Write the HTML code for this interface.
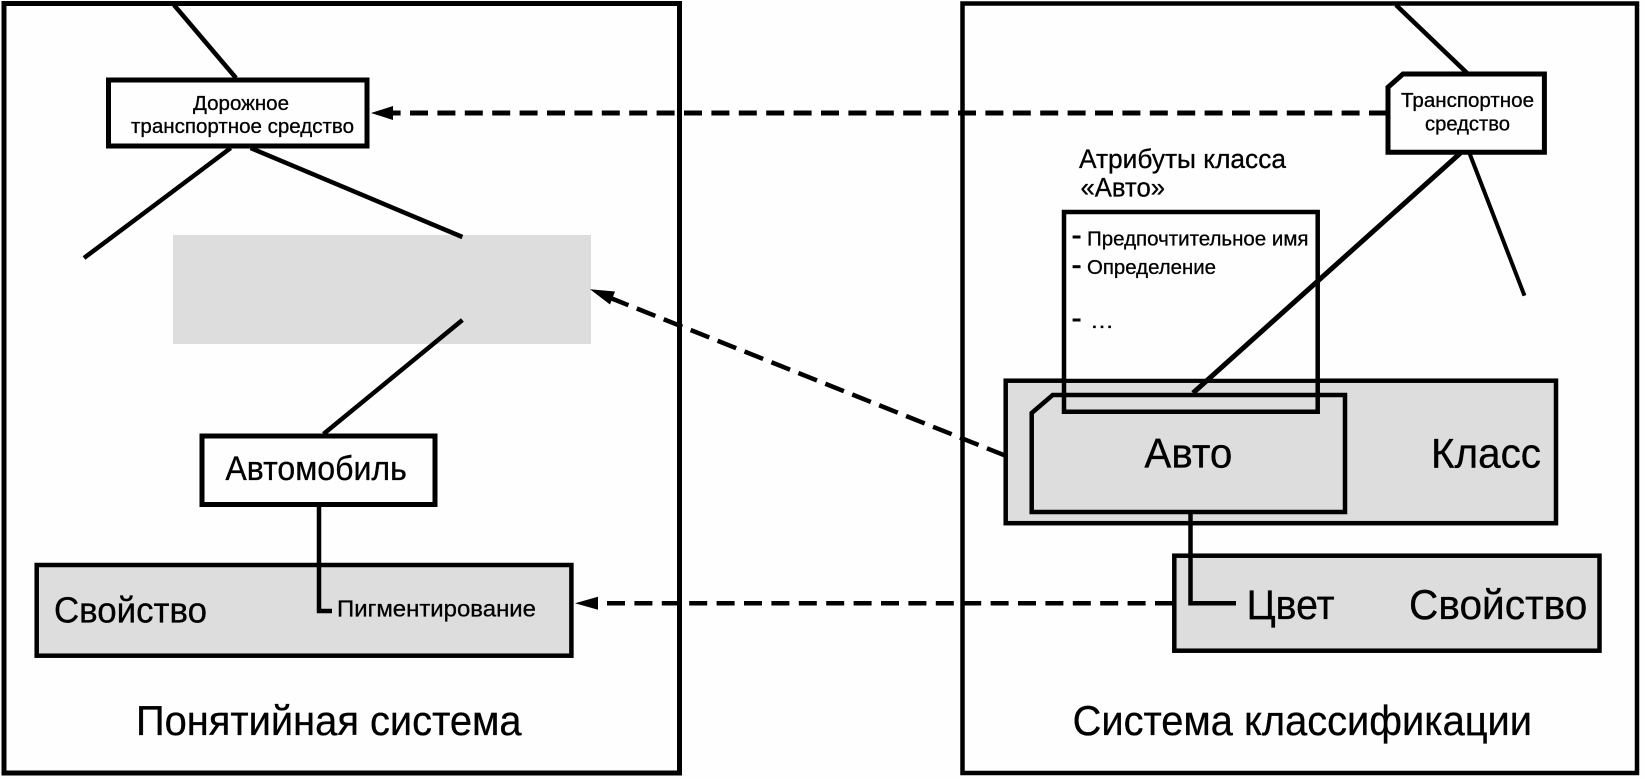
<!DOCTYPE html>
<html lang="ru">
<head>
<meta charset="utf-8">
<title>Диаграмма</title>
<style>
html,body{margin:0;padding:0;background:#fdfefd;width:1645px;height:779px;overflow:hidden}
svg{display:block}
text{font-family:"Liberation Sans",sans-serif;fill:#000;stroke:#000;stroke-width:.3}
</style>
</head>
<body>
<svg width="1645" height="779" viewBox="0 0 1645 779" xmlns="http://www.w3.org/2000/svg">
<rect width="1645" height="779" fill="#fdfefd"/>
<!-- frames -->
<rect x="4" y="3.5" width="675.5" height="769.5" fill="none" stroke="#000" stroke-width="5"/>
<rect x="962.5" y="3.5" width="674.5" height="769.5" fill="none" stroke="#000" stroke-width="4.5"/>

<!-- left: tree -->
<rect x="173" y="235" width="418" height="109" fill="#dcdddc"/>
<line x1="174" y1="5" x2="236" y2="78" stroke="#000" stroke-width="4.5"/>
<line x1="230.7" y1="148" x2="84" y2="258" stroke="#000" stroke-width="4.5"/>
<line x1="250.6" y1="148" x2="462.4" y2="237" stroke="#000" stroke-width="4.5"/>
<line x1="462.4" y1="320" x2="323.5" y2="434" stroke="#000" stroke-width="4.5"/>
<rect x="108.5" y="80" width="258.5" height="66" fill="#fdfefd" stroke="#000" stroke-width="5"/>
<rect x="202" y="436" width="233" height="68.5" fill="#fdfefd" stroke="#000" stroke-width="5"/>
<rect x="36.7" y="565" width="534.7" height="90.7" fill="#dcdddc" stroke="#000" stroke-width="4.5"/>
<polyline points="319,504 319,611 332,611" fill="none" stroke="#000" stroke-width="4.5"/>

<!-- dashed connectors -->
<line x1="1387" y1="113" x2="390" y2="113" stroke="#000" stroke-width="5" stroke-dasharray="18 9.4"/>
<polygon points="371,113 393,106 393,120" fill="#000"/>
<line x1="1005.5" y1="455.7" x2="608" y2="297" stroke="#000" stroke-width="4.5" stroke-dasharray="20 9"/>
<polygon points="590,289.3 615,291.5 610,304.5" fill="#000"/>
<line x1="1173" y1="603.3" x2="596" y2="603.3" stroke="#000" stroke-width="4.5" stroke-dasharray="18 9.4"/>
<polygon points="575,603.3 598,596.8 598,609.8" fill="#000"/>

<!-- right: class -->
<rect x="1005.7" y="380.7" width="550.3" height="142.5" fill="#dcdddc" stroke="#000" stroke-width="4.5"/>
<polygon points="1031.7,413 1052.7,395 1345,395 1345,512 1031.7,512" fill="#dcdddc" stroke="#000" stroke-width="4.5"/>
<polyline points="1064,380 1064,411.7 1317.7,411.7 1317.7,380" fill="none" stroke="#000" stroke-width="4.5"/>
<polygon points="1064,212 1317.7,212 1317.7,378.7 1064,378.7" fill="#fdfefd"/>
<polyline points="1064,382 1064,212 1317.7,212 1317.7,382" fill="none" stroke="#000" stroke-width="4.5"/>

<rect x="1174.3" y="555.7" width="425.2" height="95" fill="#dcdddc" stroke="#000" stroke-width="4.5"/>
<polyline points="1190.5,512 1190.5,603.3 1236,603.3" fill="none" stroke="#000" stroke-width="4.5"/>

<!-- right: tree -->
<line x1="1396" y1="5" x2="1467" y2="73" stroke="#000" stroke-width="4.5"/>
<line x1="1460.5" y1="153" x2="1193" y2="393" stroke="#000" stroke-width="5"/>
<line x1="1469.4" y1="153" x2="1524.5" y2="295.7" stroke="#000" stroke-width="4"/>
<polygon points="1388,87.3 1403,74 1544.4,74 1544.4,152.3 1388,152.3" fill="#fdfefd" stroke="#000" stroke-width="5"/>

<!-- attribute dashes -->
<rect x="1072.6" y="235.5" width="7.9" height="3" fill="#000"/>
<rect x="1072.6" y="265.2" width="7.9" height="3" fill="#000"/>
<rect x="1072.6" y="318.5" width="7.9" height="3" fill="#000"/>

<!-- text -->
<text x="193" y="110" font-size="20.5" textLength="96" lengthAdjust="spacingAndGlyphs">Дорожное</text>
<text x="131" y="133" font-size="20.5" textLength="223" lengthAdjust="spacingAndGlyphs">транспортное средство</text>
<text x="1401" y="107" font-size="20.5" textLength="133" lengthAdjust="spacingAndGlyphs">Транспортное</text>
<text x="1425" y="130.7" font-size="20.5" textLength="85" lengthAdjust="spacingAndGlyphs">средство</text>
<text x="1079" y="168" font-size="26.5" textLength="207" lengthAdjust="spacingAndGlyphs">Атрибуты класса</text>
<text x="1080.5" y="196.7" font-size="26.5" textLength="84.5" lengthAdjust="spacingAndGlyphs">«Авто»</text>
<text x="1087" y="245.7" font-size="20.5" textLength="221.5" lengthAdjust="spacingAndGlyphs">Предпочтительное имя</text>
<text x="1087" y="274" font-size="20.5" textLength="129" lengthAdjust="spacingAndGlyphs">Определение</text>
<text x="1090" y="328" font-size="20.5" textLength="24" lengthAdjust="spacingAndGlyphs">…</text>
<text x="225.4" y="480" font-size="34" textLength="181.4" lengthAdjust="spacingAndGlyphs">Автомобиль</text>
<text x="54" y="622.3" font-size="36.5" textLength="153" lengthAdjust="spacingAndGlyphs">Свойство</text>
<text x="337" y="616.7" font-size="23" textLength="199" lengthAdjust="spacingAndGlyphs">Пигментирование</text>
<text x="136" y="735" font-size="41.5" textLength="385.6" lengthAdjust="spacingAndGlyphs">Понятийная система</text>
<text x="1072.6" y="735" font-size="41.5" textLength="459.4" lengthAdjust="spacingAndGlyphs">Система классификации</text>
<text x="1144.4" y="467.7" font-size="41.5" textLength="88" lengthAdjust="spacingAndGlyphs">Авто</text>
<text x="1431" y="467.7" font-size="41.5" textLength="110" lengthAdjust="spacingAndGlyphs">Класс</text>
<text x="1246.6" y="619" font-size="41.5" textLength="88" lengthAdjust="spacingAndGlyphs">Цвет</text>
<text x="1409" y="619" font-size="41.5" textLength="178.4" lengthAdjust="spacingAndGlyphs">Свойство</text>
</svg>
</body>
</html>
